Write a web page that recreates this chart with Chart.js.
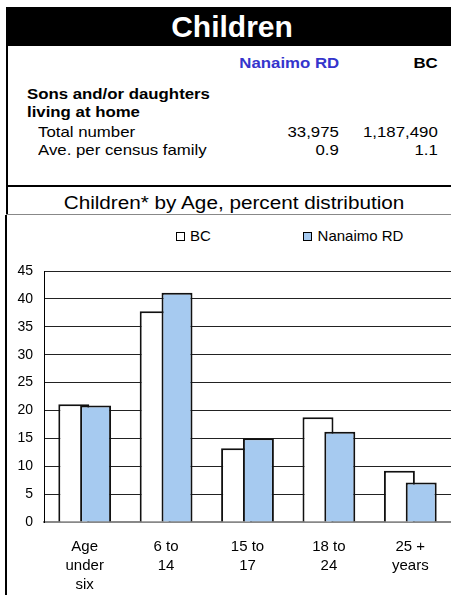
<!DOCTYPE html>
<html><head><meta charset="utf-8">
<script src="https://cdn.jsdelivr.net/npm/chart.js@4.4.0/dist/chart.umd.min.js"></script>
<style>
html,body{margin:0;padding:0;background:#fff;width:451px;height:603px;overflow:hidden;font-family:"Liberation Sans",Arial,sans-serif;position:relative}
.abs{position:absolute;white-space:nowrap;line-height:1}
.box{position:absolute;width:9px;height:9px;box-sizing:border-box;border:1px solid #000}
</style></head><body>
<div class="abs" style="left:6px;top:7px;width:445px;height:39px;background:#000"></div>
<div class="abs" id="mainTitle" style="left:0;top:11.6px;width:464px;text-align:center;color:#fff;font-weight:bold;font-size:30px"></div>
<div class="abs" style="left:6px;top:7px;width:2px;height:208px;background:#000"></div>
<div class="abs" style="left:5px;top:215px;width:2px;height:380px;background:#000"></div>
<div class="abs" style="left:6px;top:185px;width:445px;height:2px;background:#000"></div>
<div class="abs" style="left:6px;top:214px;width:445px;height:1px;background:#888"></div>
<div id="table"></div>
<div class="abs" id="chartTitle" style="left:0;top:193.8px;width:468px;text-align:center;font-size:18px;transform:scaleX(1.15);transform-origin:234px 0"></div>
<div id="legend"></div>
<div style="position:absolute;left:7px;top:215px;width:444px;height:388px"><canvas id="c"></canvas></div>
<script>
// ---- data ----
const mainTitle = "Children";
const chartTitle = "Children* by Age, percent distribution";
const tableColumns = ["Nanaimo RD", "BC"];
const tableGroup = ["Sons and/or daughters", "living at home"];
const tableRowLabels = ["Total number", "Ave. per census family"];
const nanaimoTable = ["33,975", "0.9"];
const bcTable = ["1,187,490", "1.1"];
const categories = [["Age","under","six"],["6 to","14"],["15 to","17"],["18 to","24"],["25 +","years"]];
const seriesNames = ["BC", "Nanaimo RD"];
const bcValues = [21.1, 37.8, 13.2, 18.8, 9.2];
const nanaimoValues = [20.9, 41.1, 15.0, 16.2, 7.1];
const yTickValues = [0, 5, 10, 15, 20, 25, 30, 35, 40, 45];

// ---- styles ----
const seriesFill = ["#ffffff", "#a6caf0"];
const fontFam = '"Liberation Sans", Arial, sans-serif';

document.getElementById('mainTitle').textContent = mainTitle;
document.getElementById('chartTitle').textContent = chartTitle;

const table = document.getElementById('table');
function addText(txt, opts){
  const d = document.createElement('div');
  d.className = 'abs';
  d.textContent = txt;
  d.style.fontSize = '15px';
  d.style.top = opts.top + 'px';
  if (opts.left !== undefined){ d.style.left = opts.left + 'px'; d.style.transformOrigin = 'left'; }
  if (opts.right !== undefined){ d.style.right = opts.right + 'px'; d.style.transformOrigin = 'right'; }
  d.style.transform = 'scaleX(1.12)';
  if (opts.bold) d.style.fontWeight = 'bold';
  if (opts.color) d.style.color = opts.color;
  table.appendChild(d);
}
const colRight = [111.7, 13.5];
addText(tableColumns[0], {top:55.3, right:colRight[0], bold:true, color:'#3535cc'});
addText(tableColumns[1], {top:55.3, right:colRight[1], bold:true});
addText(tableGroup[0], {top:86.3, left:26.7, bold:true});
addText(tableGroup[1], {top:104, left:26.7, bold:true});
const rowTops = [124, 141.6];
tableRowLabels.forEach((lab, i) => {
  addText(lab, {top:rowTops[i], left:38.3});
  addText(nanaimoTable[i], {top:rowTops[i], right:colRight[0]});
  addText(bcTable[i], {top:rowTops[i], right:colRight[1]});
});

// legend (HTML)
const legend = document.getElementById('legend');
const legBoxLeft = [175.7, 303.3];
seriesNames.forEach((name, i) => {
  const b = document.createElement('div');
  b.className = 'box';
  b.style.left = legBoxLeft[i] + 'px';
  b.style.top = '231.7px';
  b.style.background = seriesFill[i];
  legend.appendChild(b);
  const t = document.createElement('div');
  t.className = 'abs';
  t.style.left = (legBoxLeft[i] + 14.3) + 'px';
  t.style.top = '228px';
  t.style.fontSize = '15px';
  t.textContent = name;
  legend.appendChild(t);
});

Chart.defaults.font.family = fontFam;
const drawInIndexOrder = {
  id: 'drawInIndexOrder',
  beforeDatasetsDraw(chart){
    for (let i = 0; i < chart.data.datasets.length; i++){
      const m = chart.getDatasetMeta(i);
      if (!m.hidden) m.controller.draw();
    }
    return false;
  }
};

new Chart(document.getElementById('c'), {
  type: 'bar',
  data: {
    labels: categories,
    datasets: [
      {label: seriesNames[0], data: bcValues, backgroundColor: seriesFill[0], borderColor: '#111', borderWidth: 2},
      {label: seriesNames[1], data: nanaimoValues, backgroundColor: seriesFill[1], borderColor: '#111', borderWidth: 2}
    ]
  },
  options: {
    responsive: true,
    maintainAspectRatio: false,
    animation: false,
    datasets: {bar: {categoryPercentage: 0.536, barPercentage: 1.42}},
    layout: {padding: {top: 56, right: 0, left: 0, bottom: 0}},
    plugins: {legend: {display: false}, tooltip: {enabled: false}},
    scales: {
      x: {
        grid: {display: false, drawTicks: false},
        border: {color: '#888', width: 2},
        ticks: {padding: 15, color: '#000', maxRotation: 0, autoSkip: false,
                font: {family: fontFam, size: 15, lineHeight: 1.27}},
        afterFit(s){ s.height = 81; }
      },
      y: {
        min: yTickValues[0], max: yTickValues[yTickValues.length - 1],
        afterBuildTicks(s){ s.ticks = yTickValues.map(v => ({value: v})); },
        ticks: {padding: 11, color: '#000', font: {family: fontFam, size: 14}},
        grid: {drawTicks: false, lineWidth: 1,
               color: c => (c.tick && c.tick.value === 0) ? 'rgba(0,0,0,0)' : '#222'},
        border: {color: '#000', width: 1},
        afterFit(s){ s.width = 37; }
      }
    }
  },
  plugins: [drawInIndexOrder]
});
</script>
</body></html>
